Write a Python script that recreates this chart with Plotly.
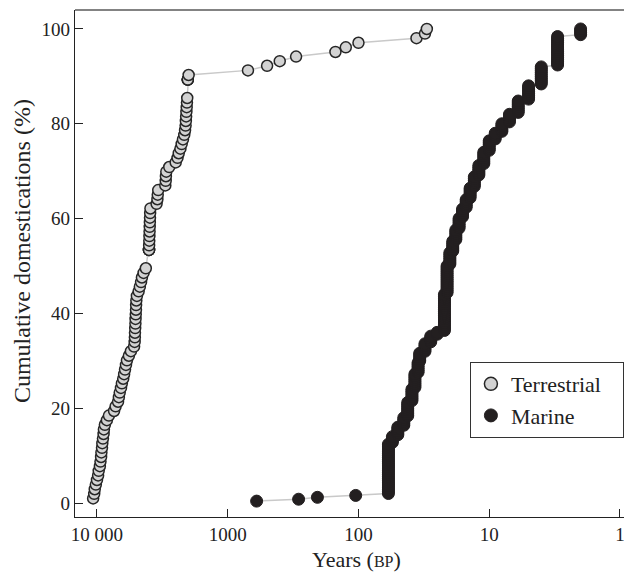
import numpy as np
import plotly.graph_objects as go

# ---- Data ----
# Terrestrial domestications: age (years BP) of each domestication (ties repeated)
terrestrial_years = [
    10700, 10500, 10400, 10200, 10000, 9800, 9700, 9500, 9400, 9300,
    9250, 9150, 9100, 9000, 8900, 8850, 8700, 8400, 8100, 7400,
    7200, 6900, 6800, 6700, 6550, 6450, 6300, 6200, 6100, 6000,
    5900, 5700, 5500, 5200, 5150, 5130, 5120, 5100, 5080, 5070,
    5050, 5030, 5020, 5000, 4950, 4800, 4700, 4600, 4530, 4400,
    4230, 4000, 4000, 4000, 4000, 3990, 3980, 3970, 3960, 3950,
    3940, 3930, 3920, 3900, 3500, 3450, 3430, 3400, 3000, 2980,
    2970, 2950, 2800, 2500, 2420, 2370, 2300, 2250, 2200, 2150,
    2120, 2100, 2090, 2080, 2070, 2060, 2050, 2040, 2020, 2020,
    2020, 2020, 1990, 700, 500, 400, 300, 150, 125, 100,
    36, 31, 30,
]

# Marine domestications: age (years BP) and number of domestications at that age
marine_years = [601, 287, 206, 105, 59, 55, 50, 45, 42, 39, 37, 35, 34, 31, 28, 25,
                22, 21, 20, 19, 18, 17, 16, 15, 14, 13, 12, 11, 10, 9, 8, 7, 6, 5, 4, 3, 2]
marine_counts = [1, 1, 1, 1, 27, 4, 5, 5, 8, 7, 8, 6, 5, 5, 4, 2,
                 20, 15, 7, 6, 6, 6, 5, 5, 6, 6, 6, 7, 6, 4, 5, 5, 7, 8, 10, 16, 4]

x_tick_vals = [10000, 1000, 100, 10, 1]
x_tick_text = ["10 000", "1000", "100", "10", "1"]
y_tick_vals = [0, 20, 40, 60, 80, 100]

# ---- Cumulative percentages ----
t_arr = np.array(terrestrial_years, dtype=float)
t_pct = np.array([np.sum(t_arr >= v) for v in t_arr]) / len(t_arr) * 100

m_x = np.repeat(np.array(marine_years, dtype=float), marine_counts)
m_pct = np.arange(1, len(m_x) + 1) / len(m_x) * 100

FONT = "Liberation Serif, Times New Roman, serif"
TERR_FILL = "#d3d3d3"
EDGE = "#262626"
MARINE = "#231f20"
LINE = "#c9c9c9"
TXT = "#222"

fig = go.Figure()
fig.add_trace(go.Scatter(
    x=t_arr, y=t_pct, mode="lines+markers", showlegend=False,
    line=dict(color=LINE, width=1.5),
    marker=dict(size=11, color=TERR_FILL, line=dict(color=EDGE, width=1.5)),
))
fig.add_trace(go.Scatter(
    x=m_x, y=m_pct, mode="lines+markers", showlegend=False,
    line=dict(color=LINE, width=1.5),
    marker=dict(size=12, color=MARINE, line=dict(color=MARINE, width=1)),
))
# legend entries (markers only)
fig.add_trace(go.Scatter(
    x=[None], y=[None], mode="markers", name="Terrestrial\u00a0\u00a0\u00a0",
    marker=dict(size=13, color=TERR_FILL, line=dict(color=EDGE, width=1.5)),
))
fig.add_trace(go.Scatter(
    x=[None], y=[None], mode="markers", name="Marine",
    marker=dict(size=13, color=MARINE, line=dict(color=MARINE, width=1)),
))

# The page body has an 8 px margin, so the figure is 8 px smaller than the window
fig.update_layout(
    width=624, height=568,
    margin=dict(l=67, r=0, t=2, b=59),
    paper_bgcolor="white", plot_bgcolor="white",
    font=dict(family=FONT, size=19, color=TXT),
    legend=dict(
        x=0.709, y=0.3057, xanchor="left", yanchor="top",
        bordercolor="#333", borderwidth=1, bgcolor="white",
        font=dict(family=FONT, size=22, color=TXT),
    ),
    shapes=[dict(type="line", xref="paper", yref="paper", x0=0, x1=1, y0=1, y1=1,
                 line=dict(color="#5a5a5a", width=1.5))],
    annotations=[
        dict(text='Years (<span style="font-size:16px">BP</span>)',
             xref="paper", yref="paper", x=0.506, y=-0.0848,
             xanchor="center", yanchor="middle", showarrow=False,
             font=dict(family=FONT, size=22, color=TXT)),
        dict(text="Cumulative domestications (%)",
             xref="paper", yref="paper", x=-0.095, y=0.5247,
             xanchor="center", yanchor="middle", showarrow=False, textangle=-90,
             font=dict(family=FONT, size=24, color=TXT)),
    ],
)
fig.update_xaxes(
    type="log", range=[4.168, -0.092], automargin=False,
    tickvals=x_tick_vals, ticktext=x_tick_text,
    ticks="inside", ticklen=8, tickcolor=TXT, tickwidth=1,
    showline=True, linecolor=TXT, linewidth=1.2,
    showgrid=False, zeroline=False,
    tickfont=dict(family=FONT, size=19, color=TXT),
)
fig.update_yaxes(
    range=[-2.95, 104.0], tickvals=y_tick_vals, automargin=False,
    ticks="inside", ticklen=8, tickcolor=TXT, tickwidth=1,
    showline=True, linecolor=TXT, linewidth=1.2,
    showgrid=False, zeroline=False,
    tickfont=dict(family=FONT, size=19, color=TXT),
)

fig.write_html("out.html")
